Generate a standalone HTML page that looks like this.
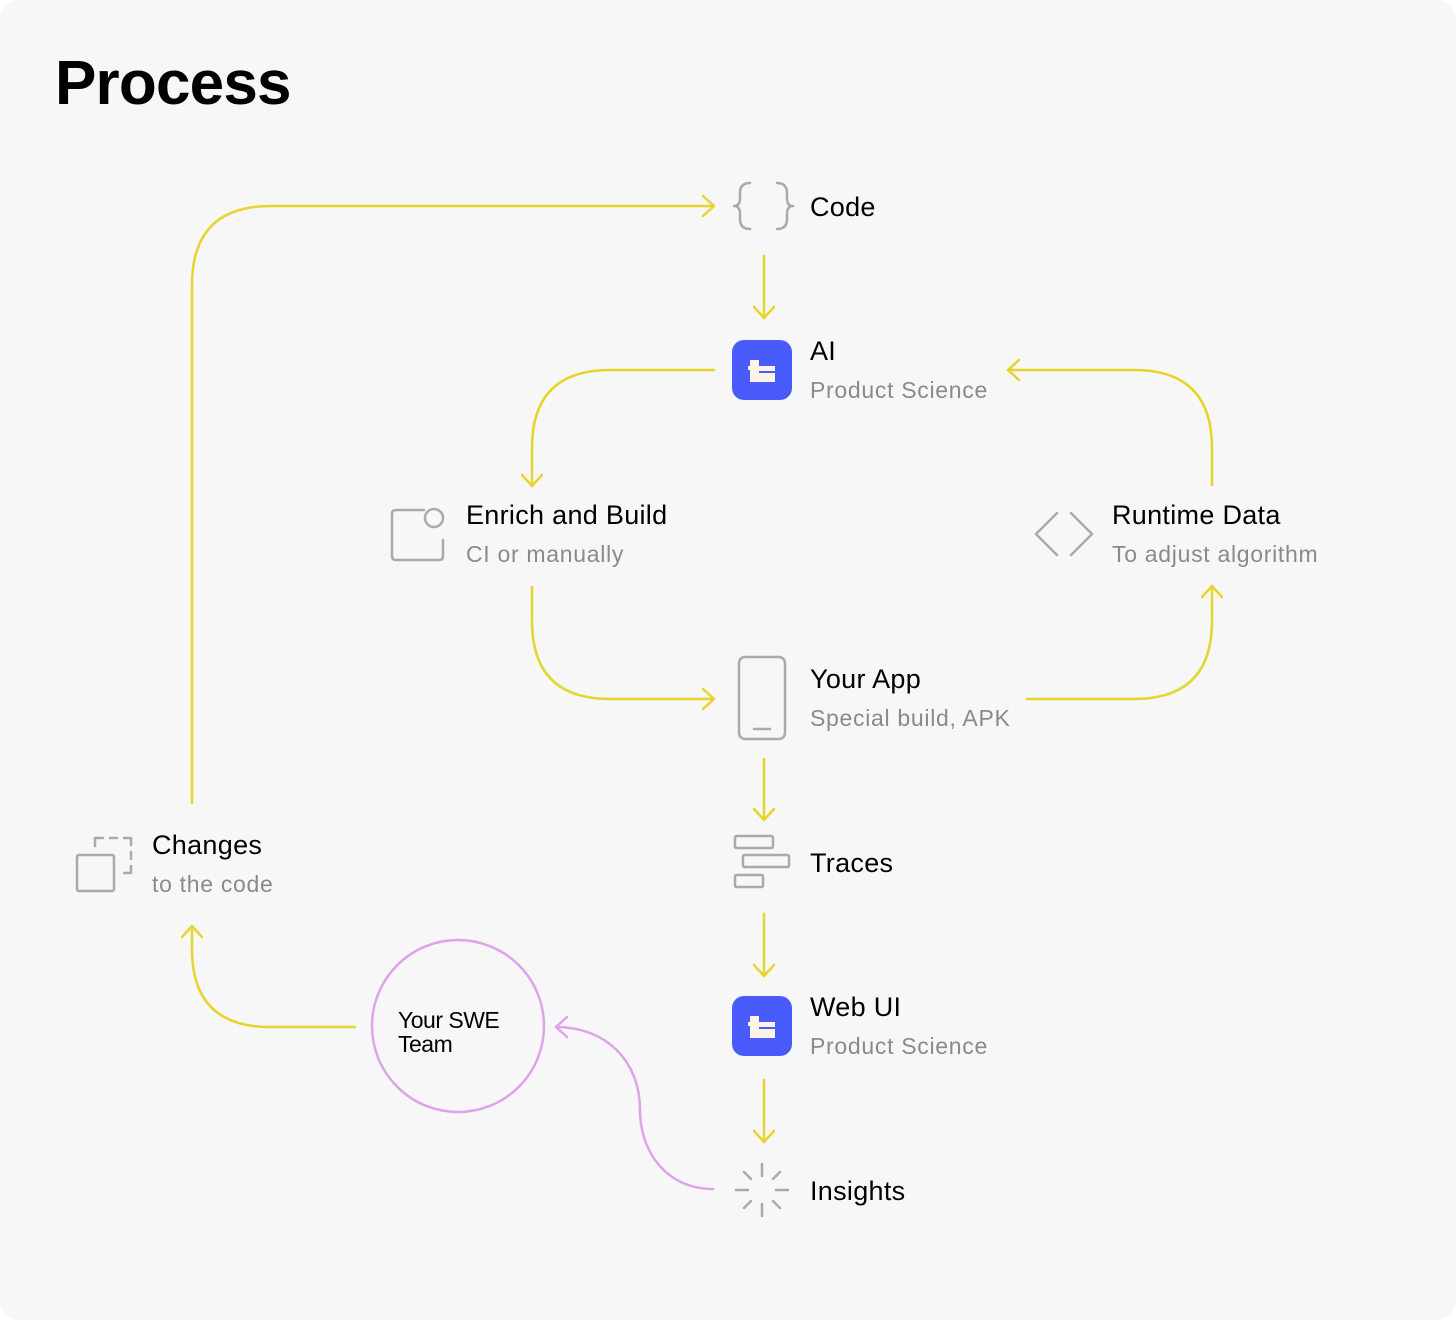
<!DOCTYPE html><html><head><style>body{margin:0;background:#fff}svg{display:block}
text{font-family:"Liberation Sans",sans-serif}</style></head><body>
<svg width="1456" height="1320" viewBox="0 0 1456 1320" xmlns="http://www.w3.org/2000/svg">
<rect x="0" y="0" width="1456" height="1320" rx="20" fill="#f7f7f7"/>
<text x="55" y="104" font-size="62" font-weight="bold" fill="#000" letter-spacing="-0.8">Process</text>
<g fill="none" stroke="#e6d52e" stroke-width="2.5" stroke-linecap="round" stroke-linejoin="round">
<path d="M192 803 V285 Q192 206 271 206 H714"/><path d="M703 196 L714 206 L703 216"/>
<path d="M764 256 V318"/><path d="M754 307 L764 318 L774 307"/>
<path d="M714 370 H610 Q532 370 532 448 V486"/><path d="M522 475 L532 486 L542 475"/>
<path d="M532 587 V621 Q532 699 610 699 H714"/><path d="M703 689 L714 699 L703 709"/>
<path d="M1027 699 H1134 Q1212 699 1212 621 V586"/><path d="M1202 597 L1212 586 L1222 597"/>
<path d="M1212 485 V448 Q1212 370 1134 370 H1008"/><path d="M1019 360 L1008 370 L1019 380"/>
<path d="M764 759 V820"/><path d="M754 809 L764 820 L774 809"/>
<path d="M764 914 V976"/><path d="M754 965 L764 976 L774 965"/>
<path d="M764 1080 V1142"/><path d="M754 1131 L764 1142 L774 1131"/>
<path d="M355 1027 H270 Q192 1027 192 949 V926"/><path d="M182 937 L192 926 L202 937"/>
</g>
<g fill="none" stroke="#dea4ea" stroke-width="2.5" stroke-linecap="round">
<path d="M713 1189 C665 1189 640 1150 640 1110 C640 1060 605 1027 556 1027"/><path d="M567 1017 L556 1027 L567 1037"/>
<circle cx="458" cy="1026" r="86"/>
</g>
<text x="398" y="1028" font-size="23" fill="#000" letter-spacing="-0.5">Your SWE</text>
<text x="398" y="1052" font-size="23" fill="#000" letter-spacing="-0.5">Team</text>
<g fill="none" stroke="#aaa" stroke-width="2.5" stroke-linecap="round" stroke-linejoin="round">
<path d="M750 183 Q740 183 740 193 V198 Q740 206 734 206 Q740 206 740 214 V219 Q740 229 750 229"/>
<path d="M777 183 Q787 183 787 193 V198 Q787 206 793 206 Q787 206 787 214 V219 Q787 229 777 229"/>
<path d="M424 510 H396 Q392 510 392 514 V556 Q392 560 396 560 H439 Q443 560 443 556 V540"/>
<circle cx="434" cy="518" r="9"/>
<path d="M1057 513 L1036 534 L1057 555"/><path d="M1071 513 L1092 534 L1071 555"/>
<rect x="739" y="657" width="46" height="82" rx="6"/><path d="M754 729 H770"/>
<rect x="735" y="836" width="38" height="12" rx="1.5"/><rect x="743" y="855" width="46" height="12" rx="1.5"/><rect x="735" y="875" width="28" height="12" rx="1.5"/>
<rect x="77" y="855" width="37" height="36" rx="2"/>
<path d="M95 846 V838 H103 M110 838 H117 M124 838 H131 V845 M131 852 V859 M131 866 V873 H124" />
<path d="M762 1164 V1176 M762 1204 V1216 M736 1190 H748 M776 1190 H788 M744 1172 L751 1179 M773 1201 L780 1208 M780 1172 L773 1179 M751 1201 L744 1208"/>
</g>
<g>
<rect x="732" y="340" width="60" height="60" rx="12" fill="#4a5bfb"/>
<rect x="732" y="996" width="60" height="60" rx="12" fill="#4a5bfb"/>
<path d="M750 360 H759 V366 H775 V382 H750 Z" fill="#fdf4e6"/><path d="M759 371 H775 V373 H759Z" fill="#4a5bfb"/><path d="M748 366 H751 V370 H748Z" fill="#fdf4e6"/>
<path d="M750 1016 H759 V1022 H775 V1038 H750 Z" fill="#fdf4e6"/><path d="M759 1027 H775 V1029 H759Z" fill="#4a5bfb"/><path d="M748 1022 H751 V1026 H748Z" fill="#fdf4e6"/>
</g>
<g font-size="27" fill="#000" letter-spacing="0.3">
<text x="810" y="216">Code</text>
<text x="810" y="360">AI</text>
<text x="466" y="524">Enrich and Build</text>
<text x="1112" y="524">Runtime Data</text>
<text x="810" y="688">Your App</text>
<text x="810" y="872">Traces</text>
<text x="152" y="854">Changes</text>
<text x="810" y="1016">Web UI</text>
<text x="810" y="1200">Insights</text>
</g>
<g font-size="23" fill="#8a8a8a" letter-spacing="0.7">
<text x="810" y="398">Product Science</text>
<text x="466" y="562">CI or manually</text>
<text x="1112" y="562">To adjust algorithm</text>
<text x="810" y="726">Special build, APK</text>
<text x="152" y="892">to the code</text>
<text x="810" y="1054">Product Science</text>
</g>
</svg></body></html>
